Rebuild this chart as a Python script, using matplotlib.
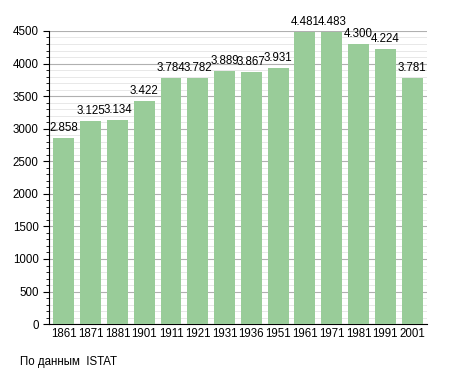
import numpy as np
import matplotlib.pyplot as plt
from matplotlib.ticker import MultipleLocator

plt.rcParams['font.family'] = ['Liberation Sans', 'DejaVu Sans']

years = ['1861', '1871', '1881', '1901', '1911', '1921', '1931', '1936',
         '1951', '1961', '1971', '1981', '1991', '2001']
population = [2858, 3125, 3134, 3422, 3784, 3782, 3889, 3867,
              3931, 4481, 4483, 4300, 4224, 3781]
labels = ['2.858', '3.125', '3.134', '3.422', '3.784', '3.782', '3.889', '3.867',
          '3.931', '4.481', '4.483', '4.300', '4.224', '3.781']

fig = plt.figure(figsize=(4.55, 3.73), dpi=100)
ax = fig.add_axes([0.108, 0.131, 0.830, 0.786])

x = np.arange(len(years))
ax.bar(x, population, width=0.78, color='#99cc99', zorder=3)

for xi, v, lab in zip(x, population, labels):
    ax.text(xi, v + 60, lab, ha='center', va='bottom', fontsize=8.3, zorder=4)

ax.set_xlim(-0.55, len(years) - 0.45)
ax.set_ylim(0, 4500)
ax.yaxis.set_major_locator(MultipleLocator(500))
ax.yaxis.set_minor_locator(MultipleLocator(100))
ax.grid(axis='y', which='major', color='#b0b0b0', linewidth=0.8, zorder=0)
ax.grid(axis='y', which='minor', color='#e4e4e4', linewidth=0.6, zorder=0)

ax.set_xticks(x)
ax.set_xticklabels(years)
ax.tick_params(axis='x', length=0, labelsize=8.3, pad=3)
ax.tick_params(axis='y', which='major', length=4, labelsize=8.3)
ax.tick_params(axis='y', which='minor', length=2)

for s in ['top', 'right']:
    ax.spines[s].set_visible(False)

fig.text(0.044, 0.03, 'По данным  ISTAT', fontsize=8.3, ha='left', va='center')

fig.savefig('out.png', dpi=100)
